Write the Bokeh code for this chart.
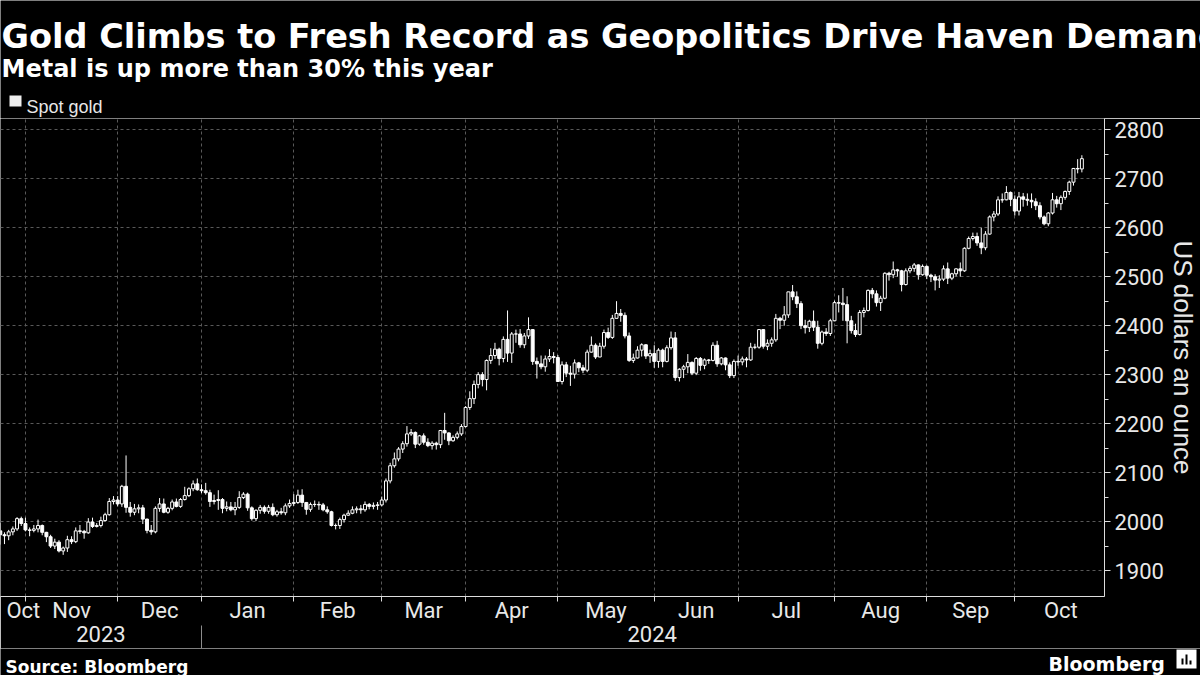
import pandas as pd
from bokeh.plotting import figure
from bokeh.layouts import column
from bokeh.models import (ColumnDataSource, FixedTicker, Label, Range1d, LinearAxis,
                          BoxAnnotation)
from bokeh.embed import file_html
from bokeh.resources import INLINE

# ---------------- data (spot gold, daily OHLC, USD/oz) ----------------
first_day = "2023-10-23"
last_day = "2024-10-22"
no_quote_days = ["2023-12-25", "2024-01-01", "2024-03-29"]

opens = [
    1981, 1973, 1971, 1979, 1985, 2006, 1996,
    1983, 1982, 1985, 1992, 1978, 1969, 1950, 1958, 1940, 1946, 1963, 1959, 1981, 1980, 1977, 1999, 1990, 1992, 2002, 2014, 2041, 2044,
    2036, 2072, 2029, 2019, 2026, 2028, 2005, 1982, 1979, 2027, 2036, 2019, 2027, 2040, 2031, 2045, 2053, 2067, 2077, 2065,
    2063, 2059, 2041, 2043, 2045, 2027, 2030, 2024, 2029, 2049, 2056, 2028, 2006, 2023, 2029, 2021, 2029, 2014, 2020, 2018, 2032, 2037,
    2039, 2054, 2039, 2025, 2035, 2035, 2034, 2024, 2020, 1992, 1992, 2004, 2013, 2017, 2024, 2026, 2024, 2035, 2031, 2033, 2034,
    2044, 2083, 2114, 2128, 2148, 2159, 2179, 2182, 2158, 2175, 2162, 2155, 2160, 2157, 2186, 2181, 2165, 2172, 2179, 2194,
    2233, 2251, 2280, 2300, 2290, 2329, 2339, 2352, 2333, 2372, 2344, 2383, 2383, 2361, 2379, 2392, 2327, 2322, 2316, 2332, 2337, 2335,
    2286, 2320, 2303, 2301, 2324, 2314, 2309, 2346, 2360, 2336, 2358, 2386, 2376, 2415, 2425, 2421, 2379, 2329, 2334, 2350, 2361, 2338, 2343,
    2327, 2350, 2327, 2355, 2375, 2294, 2311, 2316, 2325, 2303, 2333, 2319, 2330, 2329, 2360, 2322, 2334, 2320, 2298, 2327,
    2326, 2332, 2330, 2356, 2356, 2392, 2358, 2364, 2371, 2415, 2411, 2422, 2469, 2459, 2445, 2400, 2396, 2409, 2397, 2364, 2387, 2384, 2410,
    2447, 2446, 2443, 2410, 2390, 2382, 2427, 2431, 2472, 2465, 2447, 2456, 2507, 2504, 2514, 2512, 2484, 2512, 2517, 2524, 2504, 2521,
    2503, 2500, 2493, 2495, 2516, 2497, 2506, 2516, 2512, 2558, 2578, 2582, 2569, 2559, 2587, 2622, 2628, 2657, 2657, 2672, 2658,
    2634, 2663, 2658, 2656, 2653, 2645, 2622, 2608, 2630, 2657, 2649, 2662, 2674, 2693, 2721, 2720,
]
highs = [
    1997, 1978, 1983, 1990, 2009, 2010, 2008,
    1988, 1993, 2004, 1994, 1979, 1973, 1965, 1962, 1949, 1971, 1970, 1988, 1993, 1983, 2007, 2008, 1997, 2010, 2018, 2048, 2052, 2052,
    2075, 2135, 2040, 2036, 2035, 2034, 2006, 1993, 2031, 2048, 2047, 2030, 2045, 2047, 2048, 2071, 2070, 2084, 2088, 2076,
    2079, 2065, 2055, 2064, 2048, 2041, 2040, 2040, 2062, 2060, 2059, 2031, 2025, 2034, 2033, 2034, 2037, 2024, 2028, 2037, 2045, 2056,
    2065, 2066, 2040, 2039, 2043, 2041, 2038, 2031, 2022, 1996, 2008, 2016, 2023, 2031, 2031, 2034, 2041, 2038, 2039, 2040, 2051,
    2088, 2120, 2141, 2152, 2164, 2195, 2189, 2184, 2177, 2180, 2170, 2164, 2163, 2187, 2222, 2182, 2176, 2184, 2199, 2236,
    2266, 2288, 2305, 2305, 2331, 2354, 2365, 2355, 2378, 2431, 2387, 2392, 2393, 2385, 2417, 2393, 2335, 2339, 2339, 2352, 2346, 2340,
    2327, 2326, 2318, 2331, 2326, 2320, 2351, 2378, 2364, 2365, 2392, 2396, 2422, 2450, 2434, 2427, 2386, 2343, 2358, 2364, 2362, 2351, 2360,
    2354, 2353, 2360, 2388, 2387, 2313, 2320, 2342, 2327, 2336, 2336, 2333, 2332, 2366, 2369, 2336, 2335, 2325, 2331, 2339,
    2337, 2336, 2365, 2363, 2392, 2393, 2372, 2376, 2424, 2418, 2440, 2469, 2483, 2470, 2450, 2412, 2412, 2431, 2410, 2390, 2395, 2414, 2451,
    2462, 2477, 2460, 2420, 2404, 2432, 2437, 2474, 2477, 2472, 2461, 2509, 2510, 2531, 2516, 2514, 2517, 2522, 2528, 2525, 2525, 2523,
    2506, 2505, 2503, 2523, 2529, 2508, 2517, 2529, 2560, 2582, 2590, 2590, 2600, 2593, 2625, 2634, 2664, 2670, 2685, 2674, 2666,
    2673, 2671, 2670, 2670, 2660, 2652, 2625, 2632, 2671, 2665, 2666, 2676, 2696, 2722, 2740, 2748,
]
lows = [
    1953, 1954, 1962, 1972, 1981, 1991, 1980,
    1970, 1978, 1978, 1972, 1958, 1946, 1944, 1937, 1932, 1938, 1954, 1956, 1975, 1965, 1975, 1987, 1988, 1988, 2000, 2012, 2035, 2031,
    2030, 2018, 2010, 2013, 2017, 1995, 1976, 1973, 1976, 2020, 2017, 2016, 2023, 2029, 2028, 2043, 2050, 2062, 2063, 2058,
    2055, 2030, 2035, 2024, 2017, 2021, 2021, 2013, 2026, 2046, 2022, 2002, 2001, 2016, 2016, 2016, 2011, 2010, 2014, 2013, 2028, 2032,
    2036, 2030, 2014, 2020, 2030, 2024, 2021, 2016, 1990, 1984, 1985, 1998, 2012, 2015, 2017, 2016, 2020, 2025, 2025, 2024, 2031,
    2039, 2078, 2110, 2123, 2140, 2153, 2175, 2150, 2155, 2157, 2152, 2147, 2147, 2150, 2167, 2156, 2163, 2168, 2175, 2192,
    2228, 2240, 2272, 2276, 2268, 2322, 2332, 2319, 2325, 2326, 2324, 2365, 2355, 2354, 2373, 2320, 2292, 2311, 2306, 2326, 2323, 2285,
    2280, 2295, 2277, 2292, 2305, 2303, 2305, 2345, 2332, 2336, 2353, 2373, 2373, 2415, 2408, 2374, 2326, 2324, 2333, 2337, 2332, 2324, 2314,
    2314, 2315, 2325, 2351, 2287, 2286, 2293, 2303, 2299, 2299, 2308, 2311, 2322, 2327, 2316, 2319, 2309, 2293, 2293, 2318,
    2319, 2315, 2328, 2352, 2353, 2353, 2350, 2357, 2367, 2393, 2400, 2416, 2452, 2436, 2393, 2384, 2387, 2389, 2353, 2360, 2379, 2379, 2409,
    2427, 2410, 2364, 2384, 2377, 2380, 2417, 2429, 2456, 2439, 2430, 2454, 2492, 2497, 2500, 2470, 2482, 2507, 2510, 2494, 2502, 2495,
    2489, 2472, 2477, 2491, 2485, 2493, 2501, 2500, 2510, 2556, 2574, 2563, 2546, 2554, 2586, 2613, 2624, 2651, 2656, 2644, 2625,
    2625, 2643, 2645, 2640, 2636, 2617, 2605, 2603, 2627, 2641, 2636, 2657, 2667, 2686, 2711, 2713,
]
closes = [
    1973, 1971, 1979, 1985, 2006, 1996, 1983,
    1982, 1985, 1992, 1978, 1969, 1950, 1958, 1940, 1946, 1963, 1959, 1981, 1980, 1977, 1999, 1990, 1992, 2002, 2014, 2041, 2044, 2036,
    2072, 2029, 2019, 2026, 2028, 2005, 1982, 1979, 2027, 2036, 2019, 2027, 2040, 2031, 2045, 2053, 2067, 2077, 2065, 2063,
    2059, 2041, 2043, 2045, 2027, 2030, 2024, 2029, 2049, 2056, 2028, 2006, 2023, 2029, 2021, 2029, 2014, 2020, 2018, 2032, 2037, 2039,
    2054, 2039, 2025, 2035, 2035, 2034, 2024, 2020, 1992, 1992, 2004, 2013, 2017, 2024, 2026, 2024, 2035, 2031, 2033, 2034, 2044,
    2083, 2114, 2128, 2148, 2159, 2179, 2182, 2158, 2175, 2162, 2155, 2160, 2157, 2186, 2181, 2165, 2172, 2179, 2194, 2233,
    2251, 2280, 2300, 2290, 2329, 2339, 2352, 2333, 2372, 2344, 2383, 2383, 2361, 2379, 2392, 2327, 2322, 2316, 2332, 2337, 2335, 2286,
    2320, 2303, 2301, 2324, 2314, 2309, 2346, 2360, 2336, 2358, 2386, 2376, 2415, 2425, 2421, 2379, 2329, 2334, 2350, 2361, 2338, 2343, 2327,
    2350, 2327, 2355, 2375, 2294, 2311, 2316, 2325, 2303, 2333, 2319, 2330, 2329, 2360, 2322, 2334, 2320, 2298, 2327, 2326,
    2332, 2330, 2356, 2356, 2392, 2358, 2364, 2371, 2415, 2411, 2422, 2469, 2459, 2445, 2400, 2396, 2409, 2397, 2364, 2387, 2384, 2410, 2447,
    2446, 2443, 2410, 2390, 2382, 2427, 2431, 2472, 2465, 2447, 2456, 2507, 2504, 2514, 2512, 2484, 2512, 2517, 2524, 2504, 2521, 2503,
    2500, 2493, 2495, 2516, 2497, 2506, 2516, 2512, 2558, 2578, 2582, 2569, 2559, 2587, 2622, 2628, 2657, 2657, 2672, 2658, 2634,
    2663, 2658, 2656, 2653, 2645, 2622, 2608, 2630, 2657, 2649, 2662, 2674, 2693, 2721, 2720, 2741,
]
y_ticks = [1900, 2000, 2100, 2200, 2300, 2400, 2500, 2600, 2700, 2800]
years = ["2023", "2024"]

title = "Gold Climbs to Fresh Record as Geopolitics Drive Haven Demand"
subtitle = "Metal is up more than 30% this year"
series_name = "Spot gold"
y_title = "US dollars an ounce"
source_text = "Source: Bloomberg"
brand = "Bloomberg"

# ---------------- trading-day axis ----------------
dates = [d for d in pd.bdate_range(first_day, last_day)
         if d.strftime("%Y-%m-%d") not in no_quote_days]
n = len(dates)
assert n == len(opens) == len(highs) == len(lows) == len(closes), (n, len(opens))
xs = list(range(n))

X0, X1 = 0.05, 263.4
bounds, bound_month = [], []
for i in range(1, n):
    if dates[i].month != dates[i - 1].month:
        bounds.append(i - 1)
        bound_month.append(dates[i].strftime("%b"))
month_pos = [5.5]
month_txt = [dates[0].strftime("%b")]
for k, b in enumerate(bounds):
    c = (b + bounds[k + 1]) / 2 if k + 1 < len(bounds) else 253.0
    month_pos.append(float(c))
    month_txt.append(bound_month[k])
year_break = [b for b, m in zip(bounds, bound_month) if m == "Jan"][0]
year_pos = [24.0, round((year_break + X1) / 2 * 2) / 2]

up_idx = [i for i in xs if closes[i] >= opens[i]]
dn_idx = [i for i in xs if closes[i] < opens[i]]


def body(ids):
    return ColumnDataSource(dict(
        x=[xs[i] for i in ids],
        top=[max(opens[i], closes[i]) for i in ids],
        bottom=[min(opens[i], closes[i]) for i in ids],
    ))


wick_src = ColumnDataSource(dict(x=xs, high=highs, low=lows))

TICKF = "Roboto, 'Liberation Sans', sans-serif"
REG = "'Liberation Sans', Arial, sans-serif"
BOLD = "'DejaVu Sans', sans-serif"
TXT = "#e8e8e8"
GRID = "#595959"
AX = "#dddddd"
W = 1200


def no_align(f):
    try:
        f.frame_align = False
    except Exception:
        pass


def blank(h):
    f = figure(width=W, height=h, x_range=Range1d(0, W), y_range=Range1d(0, h),
               toolbar_location=None, output_backend="svg",
               x_axis_location=None, y_axis_location=None,
               background_fill_color="black", border_fill_color="black",
               min_border=0)
    f.outline_line_color = None
    f.grid.visible = False
    no_align(f)
    return f


# ---------------- header (titles + legend) ----------------
HEAD = 118
head = blank(HEAD)
head.add_layout(Label(x=1, y=HEAD - 36, text=title, text_font=BOLD, text_font_style="bold",
                      text_font_size="33.5px", text_color="white", text_baseline="alphabetic"))
head.add_layout(Label(x=1, y=HEAD - 68, text=subtitle, text_font=BOLD, text_font_style="bold",
                      text_font_size="24px", text_color="white", text_baseline="alphabetic"))
head.add_layout(BoxAnnotation(left=9, right=21, bottom=HEAD - 106, top=HEAD - 95,
                              fill_color="#eeeeee", fill_alpha=1, line_color=None))
head.add_layout(Label(x=26, y=HEAD - 106, text=series_name, text_font=REG,
                      text_font_size="18px", text_color=TXT, text_baseline="alphabetic"))

# ---------------- main chart ----------------
MAIN = 530
p = figure(width=W, height=MAIN, x_range=Range1d(X0, X1), y_range=Range1d(1847, 2823),
           y_axis_location="right", toolbar_location=None, output_backend="svg",
           background_fill_color="black", border_fill_color="black",
           min_border_left=0, min_border_right=93, min_border_top=0, min_border_bottom=52)
p.outline_line_color = None
no_align(p)

p.xgrid.ticker = FixedTicker(ticks=bounds)
p.xgrid.grid_line_color = GRID
p.xgrid.grid_line_dash = "3 3"
p.ygrid.grid_line_color = GRID
p.ygrid.grid_line_dash = "3 3"

xa = p.xaxis[0]
xa.ticker = FixedTicker(ticks=month_pos, minor_ticks=bounds)
xa.major_label_overrides = {float(c): t for c, t in zip(month_pos, month_txt)}
xa.major_tick_out = 0
xa.major_tick_in = 0
xa.minor_tick_out = 5
xa.minor_tick_in = 0
xa.minor_tick_line_color = AX
xa.axis_line_color = AX
xa.major_label_text_color = TXT
xa.major_label_text_font = TICKF
xa.major_label_text_font_size = "22px"
xa.major_label_standoff = -4

ya2 = LinearAxis(ticker=FixedTicker(ticks=year_pos, minor_ticks=[year_break]))
ya2.major_label_overrides = {float(c): t for c, t in zip(year_pos, years)}
ya2.axis_line_color = None
ya2.major_tick_out = 0
ya2.major_tick_in = 0
ya2.minor_tick_in = 0
ya2.minor_tick_out = 28
ya2.minor_tick_line_color = "#8c8c8c"
ya2.major_label_text_color = TXT
ya2.major_label_text_font = TICKF
ya2.major_label_text_font_size = "22px"
ya2.major_label_standoff = -28
p.add_layout(ya2, "below")

yax = p.yaxis[0]
yax.ticker = FixedTicker(ticks=y_ticks, minor_ticks=[t + 50 for t in y_ticks[:-1]])
yax.axis_line_color = AX
yax.major_tick_line_color = AX
yax.minor_tick_line_color = AX
yax.major_tick_out = 6
yax.major_tick_in = 0
yax.minor_tick_out = 4
yax.minor_tick_in = 0
yax.major_label_text_color = TXT
yax.major_label_text_font = TICKF
yax.major_label_text_font_size = "22px"
yax.major_label_standoff = 4
yax.axis_label = y_title
yax.axis_label_text_font = REG
yax.axis_label_text_font_style = "normal"
yax.axis_label_text_font_size = "26px"
yax.axis_label_text_color = TXT
yax.axis_label_standoff = 1

p.segment(x0="x", y0="low", x1="x", y1="high", source=wick_src, line_color="white", line_width=1)
p.vbar(x="x", width=0.7, top="top", bottom="bottom", source=body(up_idx),
       fill_color="black", line_color="white", line_width=1)
p.vbar(x="x", width=0.7, top="top", bottom="bottom", source=body(dn_idx),
       fill_color="white", line_color="white", line_width=1)

# ---------------- footer (source + brand) ----------------
FOOT = 675 - HEAD - MAIN
foot = blank(FOOT)
foot.add_layout(Label(x=5, y=FOOT - 18, text=source_text, text_font=BOLD, text_font_style="bold",
                      text_font_size="17px", text_color="white", text_baseline="alphabetic"))
foot.add_layout(Label(x=1048, y=FOOT - 15, text=brand, text_font=BOLD, text_font_style="bold",
                      text_font_size="19px", text_color="white", text_baseline="alphabetic"))
foot.add_layout(BoxAnnotation(left=1176, right=1196, bottom=FOOT - 20, top=FOOT - 1,
                              fill_color="white", fill_alpha=1, line_color=None))
for l, r, t in [(1181, 1183, 10), (1185, 1187, 6), (1189, 1191, 12)]:
    foot.add_layout(BoxAnnotation(left=l, right=r, bottom=FOOT - 16, top=FOOT - t,
                                  fill_color="black", fill_alpha=1, line_color=None))

layout = column(head, p, foot, spacing=0)
open("out.html", "w").write(file_html(layout, INLINE))
